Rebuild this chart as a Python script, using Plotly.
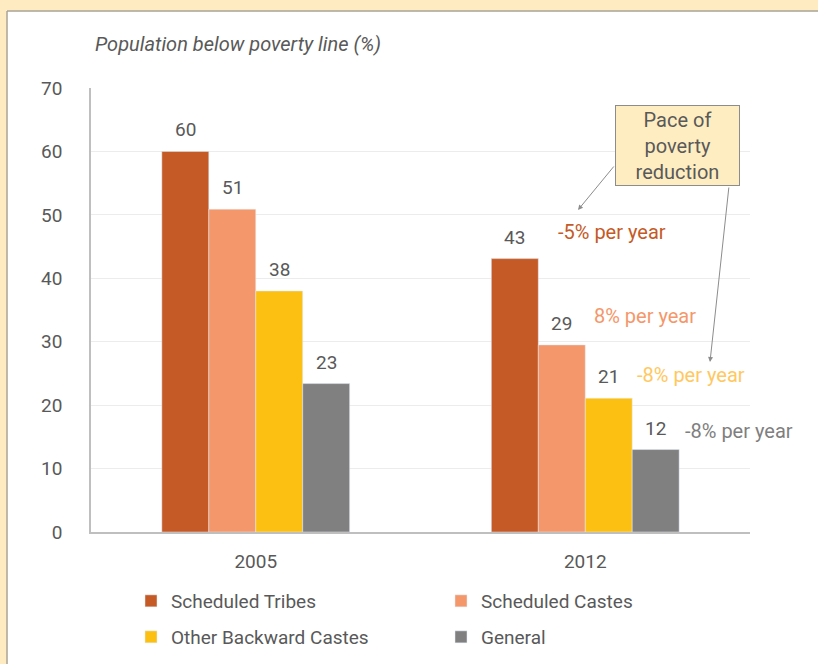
import plotly.graph_objects as go

# data
years = ["2005", "2012"]
tribes = [60.0, 43.1]
castes = [50.9, 29.5]
backward = [38.0, 21.1]
general = [23.4, 13.0]
tribes_lbl = ["60", "43"]
castes_lbl = ["51", "29"]
backward_lbl = ["38", "21"]
general_lbl = ["23", "12"]
pace_text = ["-5% per year", "8% per year", "-8% per year", "-8% per year"]

FONT = "Roboto"
TXT = "#595959"
CREAM = "#FEEBC1"
EDGE = "#a8a291"
c_st, c_sc, c_obc, c_gen = "#C55A26", "#F4976A", "#FCC013", "#808080"

# plot area in px: x 91..750, y 88..532
FW, FH = 818, 664
L, R, T, B = 91, 750, 88, 532
W, H = R - L, B - T
BARGAP = 0.43


def px(x):
    return (x - L) / W


def py(y):
    return (B - y) / H


fig = go.Figure()
series = [
    ("Scheduled Tribes", tribes, tribes_lbl, c_st, "legend"),
    ("Scheduled Castes", castes, castes_lbl, c_sc, "legend"),
    ("Other Backward Castes", backward, backward_lbl, c_obc, "legend2"),
    ("General", general, general_lbl, c_gen, "legend2"),
]
ann = []
bw = (1 - BARGAP) / len(series)
for j, (name, vals, lbl, col, leg) in enumerate(series):
    fig.add_trace(go.Bar(name=name, x=years, y=vals, marker_color=col, legend=leg))
    # value labels sitting a little above each bar
    for i, (v, t) in enumerate(zip(vals, lbl)):
        ann.append(dict(text=t, x=i + (j - 1.5) * bw, y=v, xref="x", yref="y",
                        yanchor="bottom", yshift=8, showarrow=False,
                        font=dict(size=19, color=TXT, family=FONT)))

# cream page edges + panel border (top and left are the only visible ones)
fig.add_shape(type="rect", xref="paper", yref="paper", layer="below",
              x0=px(0), x1=px(6.5), y0=py(FH), y1=py(0),
              fillcolor=CREAM, line_width=0)
fig.add_shape(type="rect", xref="paper", yref="paper", layer="below",
              x0=px(0), x1=px(FW), y0=py(10.5), y1=py(0),
              fillcolor=CREAM, line_width=0)
fig.add_shape(type="line", xref="paper", yref="paper", layer="below",
              x0=px(7), x1=px(FW), y0=py(11), y1=py(11),
              line=dict(color=EDGE, width=1.5))
fig.add_shape(type="line", xref="paper", yref="paper", layer="below",
              x0=px(7), x1=px(7), y0=py(11), y1=py(FH),
              line=dict(color=EDGE, width=1.5))

ann.append(dict(text="Population below poverty line (%)", xref="paper", yref="paper",
                x=px(93), y=py(44), xanchor="left", yanchor="middle", showarrow=False,
                font=dict(size=20, color=TXT, family=FONT, style="italic")))

pace_colors = [c_st, c_sc, "#FFC861", "#7F7F7F"]
pace_pos = [(556, 232), (592, 316), (635, 375), (683, 431)]
for t, c, (x, y) in zip(pace_text, pace_colors, pace_pos):
    ann.append(dict(text=t, xref="paper", yref="paper", x=px(x), y=py(y),
                    xanchor="left", yanchor="middle", showarrow=False,
                    font=dict(size=20, color=c, family=FONT)))

ann.append(dict(text="Pace of<br>poverty<br>reduction", xref="paper", yref="paper",
                x=px(677.5), y=py(145.5), xanchor="center", yanchor="middle",
                showarrow=False, width=121, height=77, borderpad=1, borderwidth=1,
                bgcolor="#FFEDC2", bordercolor="#8c8c8c",
                font=dict(size=20, color=TXT, family=FONT)))

for (hx, hy), (tx, ty) in [((578, 210), (615, 165)), ((710, 362), (729, 186))]:
    ann.append(dict(text="", xref="paper", yref="paper", x=px(hx), y=py(hy),
                    ax=tx - hx, ay=ty - hy, showarrow=True, arrowhead=2,
                    arrowsize=1, arrowwidth=1, arrowcolor="#8c8c8c", standoff=0))

leg = dict(orientation="h", xanchor="left", yanchor="middle",
           xref="container", yref="container",
           entrywidth=265, entrywidthmode="pixels", bgcolor="rgba(0,0,0,0)",
           font=dict(size=19, color=TXT, family=FONT), traceorder="normal")

fig.update_layout(
    width=FW, height=FH,
    margin=dict(l=L, r=FW - R, t=T, b=FH - B, autoexpand=False),
    paper_bgcolor="white", plot_bgcolor="white",
    font=dict(family=FONT, color=TXT),
    barmode="group", bargap=BARGAP, bargroupgap=0,
    showlegend=True,
    legend=dict(leg, x=131 / FW, y=1 - 601 / FH),
    legend2=dict(leg, x=131 / FW, y=1 - 637 / FH),
    annotations=ann,
    xaxis=dict(showline=True, linecolor="#bfbfbf", linewidth=1.5, ticks="",
               tickfont=dict(size=19, color=TXT), ticklabelstandoff=11),
    yaxis=dict(range=[0, 70], dtick=10, showline=True, linecolor="#bfbfbf",
               linewidth=1.5, gridcolor="#ececec", zeroline=False, ticks="",
               tickfont=dict(size=19, color=TXT), ticklabelstandoff=23),
)

css = ("var s=document.createElement('style');"
       "s.textContent='html,body{margin:0;padding:0;overflow:hidden}"
       "::-webkit-scrollbar{display:none;width:0;height:0}';"
       "document.head.appendChild(s);")
fig.write_html("out.html", config={"displayModeBar": False}, post_script=css)
